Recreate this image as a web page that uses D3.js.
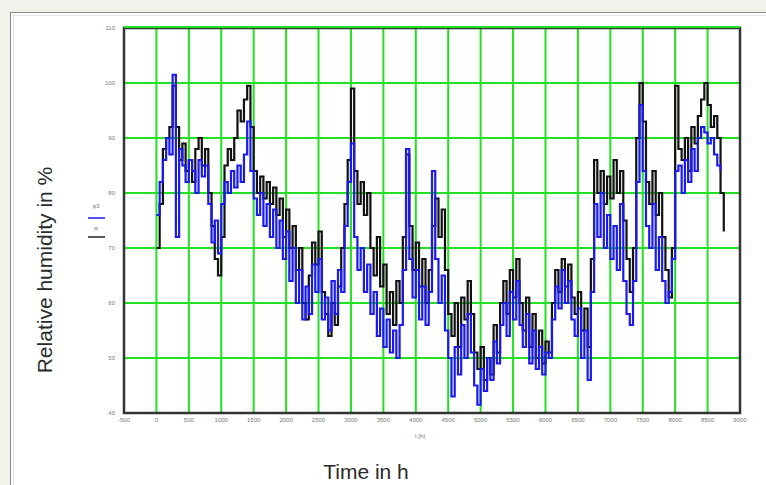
<!DOCTYPE html>
<html lang="en">
  <head>
    <meta charset="UTF-8" />
    <title>Relative humidity over time</title>
    <script src="https://d3js.org/d3.v7.min.js"></script>
  </head>
  <style>
    body {
      margin: 0;
      background: #f2f2ed;
    }

    svg {
      display: block;
      font-family: "Liberation Sans", Arial, sans-serif;
    }

    .tick-label {
      font-size: 6px;
      fill: #777;
    }

    .title {
      font-size: 21px;
      fill: #2a2a2a;
    }
  </style>
  <body>
    <div id="viz">
      <svg width="766" height="485"></svg>
    </div>
  </body>
  <footer>
    <script>
      // time step between samples (h)
      var step = 50;

      var xTicks = [-500, 0, 500, 1000, 1500, 2000, 2500, 3000, 3500, 4000, 4500,
        5000, 5500, 6000, 6500, 7000, 7500, 8000, 8500, 9000];
      var yTicks = [40, 50, 60, 70, 80, 90, 100, 110];

      // relative humidity, black series
      var rhBlack = [70, 78, 88, 90, 92, 99.5, 92, 86, 89, 84, 86, 82, 88, 90, 85, 88, 80, 74, 68, 65,
        72, 85, 88, 86, 90, 95, 93, 97, 99.5, 92, 84, 80, 83, 79, 82, 78, 81, 76, 79, 72,
        77, 70, 74, 66, 70, 60, 57, 65, 71, 67, 73, 62, 58, 54, 60, 56, 63, 70, 78, 86,
        99, 84, 78, 82, 76, 80, 70, 65, 72, 63, 67, 58, 62, 56, 64, 60, 72, 87, 74, 66,
        71, 63, 68, 60, 66, 74, 79, 72, 77, 66, 58, 54, 60, 52, 61, 57, 64, 58, 51, 48,
        52, 46, 50, 47, 56, 51, 60, 64, 58, 66, 61, 68, 60, 55, 61, 52, 58, 50, 55, 49,
        53, 51, 60, 66, 62, 68, 63, 67, 61, 58, 62, 55, 59, 52, 68, 86, 80, 84, 78, 83,
        79, 86, 80, 84, 75, 68, 62, 70, 90, 100, 93, 82, 78, 84, 76, 80, 72, 66, 61, 70,
        99.5, 88, 86, 90, 84, 92, 89, 94, 97, 100, 96, 92, 94, 90, 80, 73];

      // relative humidity, blue series
      var rhBlue = [76, 82, 86, 90, 87, 101.5, 72, 88, 85, 82, 86, 84, 80, 86, 83, 85, 78, 71, 75, 69,
        78, 82, 80, 84, 81, 85, 82, 87, 93, 84, 79, 76, 80, 74, 78, 72, 77, 70, 75, 68,
        73, 64, 70, 60, 66, 57, 63, 58, 67, 62, 68, 57, 61, 55, 64, 58, 66, 62, 74, 82,
        89, 72, 66, 70, 62, 67, 58, 62, 54, 59, 52, 57, 51, 55, 50, 56, 66, 88, 68, 61,
        66, 57, 63, 56, 62, 84, 68, 60, 65, 55, 50, 43, 52, 47, 56, 50, 58, 51, 45, 41.5,
        48, 44, 50, 46, 53, 49, 56, 60, 54, 62, 57, 64, 56, 52, 58, 49, 55, 48, 52, 47,
        51, 50, 57, 63, 59, 66, 60, 64, 57, 54, 59, 50, 55, 46, 62, 78, 72, 80, 70, 76,
        68, 74, 66, 78, 64, 58, 56, 64, 82, 96, 84, 74, 70, 78, 66, 72, 64, 60, 62, 68,
        84, 85, 80, 86, 82, 88, 84, 90, 92, 91, 89, 90, 87, 85, 84];

      var svg = d3.select("svg");

      // white panel
      svg.append("rect")
        .attr("x", 10.5).attr("y", 12.5)
        .attr("width", 770).attr("height", 490)
        .attr("fill", "#fff")
        .attr("stroke", "#8a8a8a");
      svg.append("rect")
        .attr("x", 13.5).attr("y", 15.5)
        .attr("width", 770).attr("height", 490)
        .attr("fill", "none")
        .attr("stroke", "#e2e2e2");

      var plotLeft = 124, plotRight = 740, plotTop = 28, plotBottom = 413;

      var x = d3.scaleLinear().domain([-500, 9000]).range([plotLeft, plotRight]);
      var y = d3.scaleLinear().domain([40, 110]).range([plotBottom, plotTop]);

      // grid
      svg.append("g")
        .selectAll("line")
        .data(xTicks.slice(1, -1))
        .enter()
        .append("line")
        .attr("x1", function (d) { return x(d); })
        .attr("x2", function (d) { return x(d); })
        .attr("y1", plotTop)
        .attr("y2", plotBottom)
        .attr("stroke", "#22e022")
        .attr("stroke-width", 2);

      svg.append("g")
        .selectAll("line")
        .data(yTicks.slice(1, -1))
        .enter()
        .append("line")
        .attr("x1", plotLeft)
        .attr("x2", plotRight)
        .attr("y1", function (d) { return y(d); })
        .attr("y2", function (d) { return y(d); })
        .attr("stroke", "#22e022")
        .attr("stroke-width", 2);

      // series, drawn as steps like the original plot
      var line = d3.line()
        .curve(d3.curveStepAfter)
        .x(function (d, i) { return x(i * step); })
        .y(function (d) { return y(d); });

      svg.append("path")
        .datum(rhBlack)
        .attr("d", line)
        .attr("fill", "none")
        .attr("stroke", "#111")
        .attr("stroke-width", 2.2);

      svg.append("path")
        .datum(rhBlue)
        .attr("d", line)
        .attr("fill", "none")
        .attr("stroke", "#1a1aee")
        .attr("stroke-width", 2.2);

      // frame
      svg.append("rect")
        .attr("x", plotLeft).attr("y", plotTop)
        .attr("width", plotRight - plotLeft).attr("height", plotBottom - plotTop)
        .attr("fill", "none")
        .attr("stroke", "#333")
        .attr("stroke-width", 2.5);
      svg.append("line")
        .attr("x1", plotLeft).attr("x2", plotRight)
        .attr("y1", plotTop - 1).attr("y2", plotTop - 1)
        .attr("stroke", "#22e022")
        .attr("stroke-width", 2);

      // tick labels
      svg.append("g")
        .selectAll("text")
        .data(yTicks)
        .enter()
        .append("text")
        .attr("class", "tick-label")
        .attr("x", plotLeft - 9)
        .attr("y", function (d) { return y(d) + 2; })
        .attr("text-anchor", "end")
        .text(function (d) { return d; });

      svg.append("g")
        .selectAll("text")
        .data(xTicks)
        .enter()
        .append("text")
        .attr("class", "tick-label")
        .attr("x", function (d) { return x(d); })
        .attr("y", plotBottom + 9)
        .attr("text-anchor", "middle")
        .text(function (d) { return d; });

      svg.append("text")
        .attr("class", "tick-label")
        .attr("x", 420)
        .attr("y", 438)
        .attr("text-anchor", "middle")
        .text("t [h]");

      // small legend
      var legend = svg.append("g").attr("transform", "translate(88,208)");
      legend.append("text").attr("class", "tick-label").attr("x", 8).attr("y", 0)
        .attr("text-anchor", "middle").text("φ3");
      legend.append("line").attr("x1", 0).attr("x2", 17).attr("y1", 10).attr("y2", 10)
        .attr("stroke", "#1a1aee").attr("stroke-width", 1.5);
      legend.append("text").attr("class", "tick-label").attr("x", 8).attr("y", 22)
        .attr("text-anchor", "middle").text("φ");
      legend.append("line").attr("x1", 0).attr("x2", 17).attr("y1", 29).attr("y2", 29)
        .attr("stroke", "#222").attr("stroke-width", 1.5);

      // titles
      svg.append("text")
        .attr("class", "title")
        .attr("transform", "translate(52,270) rotate(-90)")
        .attr("text-anchor", "middle")
        .text("Relative humidity in %");

      svg.append("text")
        .attr("class", "title")
        .attr("x", 366)
        .attr("y", 479)
        .attr("text-anchor", "middle")
        .text("Time in h");
    </script>
  </footer>
</html>
